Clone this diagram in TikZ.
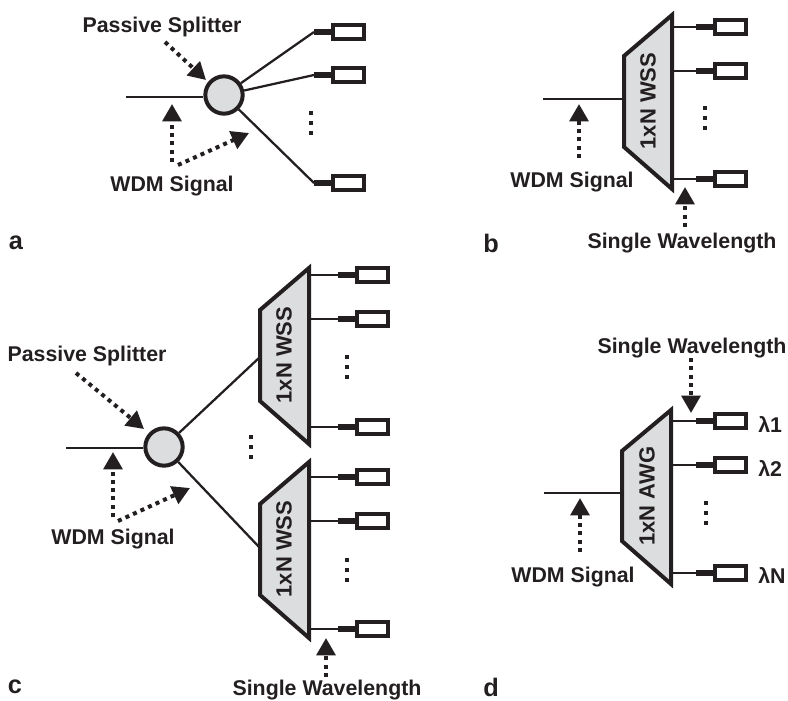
\documentclass[tikz,border=0pt]{standalone}
\usepackage{fontspec}
\setmainfont{Liberation Sans}
\usetikzlibrary{arrows.meta}
\definecolor{ink}{HTML}{231F20}
\definecolor{boxgray}{HTML}{DCDDDE}
\tikzset{
  fibre/.style={ink,line width=1.7pt},
  stub/.style={ink,line width=5.2pt},
  rxbox/.style={draw=ink,fill=white,line width=2.8pt,minimum width=23.4pt,minimum height=10.7pt,inner sep=0pt},
  splitter/.style={circle,draw=ink,fill=boxgray,line width=3pt,minimum size=28pt,inner sep=0pt},
  muxedge/.style={draw=ink,fill=boxgray,line width=3pt,line join=miter},
  muxlabel/.style={rotate=90,text=ink,inner sep=0pt,font=\fontsize{16.5}{18}\selectfont\bfseries},
  lbl/.style={text=ink,inner sep=0pt,yshift=-1.9pt,font=\fontsize{16}{18}\selectfont\bfseries},
  panel/.style={text=ink,inner sep=0pt,yshift=-1.5pt,font=\fontsize{19}{21}\selectfont\bfseries},
  pointer/.style={ink,line width=3pt,dash pattern=on 3pt off 3.2pt,-{Triangle[length=13pt,width=14pt]}},
  morerows/.style={ink,line width=3pt,dash pattern=on 3.2pt off 4.3pt}
}
\newcommand{\rxport}[4]{%
  \coordinate (#1s) at (#2,#3);
  \node[rxbox] (#1r) at (#2+34.5,#3) {};
  \draw[fibre] (#4) -- (#1s);
  \draw[stub] (#1s) -- (#1r.west);
}

\begin{document}
\begin{tikzpicture}[x=0.75pt,y=-0.75pt]
  \useasboundingbox (0,0) rectangle (788,700);

  % panel a
  \node[splitter] (splita) at (224,95) {};
  \coordinate (ain) at (126,97);
  \draw[fibre] (ain) -- (ain -| splita.west);
  \rxport{a1}{314}{32}{splita}
  \rxport{a2}{314}{75}{splita}
  \rxport{a3}{314}{183}{splita}
  \coordinate (adots) at (311,111);
  \draw[morerows] (adots) -- ++(0,24);
  \node[lbl] (apassive) at (162,24) {Passive Splitter};
  \node[lbl] (awdm) at (172,183) {WDM Signal};
  \node[panel] (alabel) at (16,241) {a};
  \coordinate (ap1) at (165,42);
  \coordinate (ap2) at (206,80);
  \coordinate (aw1) at (172,162);
  \coordinate (aw2) at (172,104);
  \coordinate (aw3) at (178,165);
  \coordinate (aw4) at (249,133);
  \draw[pointer] (ap1) -- (ap2);
  \draw[pointer] (aw1) -- (aw2);
  \draw[pointer] (aw3) -- (aw4);

  % panel b
  \coordinate (bne) at (672,15);
  \coordinate (bnw) at (624,56);
  \coordinate (bsw) at (624,147);
  \coordinate (bse) at (672,189);
  \draw[muxedge] (bne) -- (bnw) -- (bsw) -- (bse) -- cycle;
  \node[muxlabel] (bmux) at (648,101) {1xN WSS};
  \coordinate (bin) at (543,99);
  \draw[fibre] (bin) -- (bin -| bnw);
  \rxport{b1}{696}{27}{b1s -| bne}
  \rxport{b2}{696}{71}{b2s -| bne}
  \rxport{b3}{696}{179}{b3s -| bne}
  \coordinate (bdots) at (705,106);
  \draw[morerows] (bdots) -- ++(0,24);
  \node[lbl] (bwdm) at (572,179) {WDM Signal};
  \node[lbl] (bsingle) at (682,240) {Single Wavelength};
  \node[panel] (blabel) at (491,241) {b};
  \coordinate (bw1) at (579,158);
  \coordinate (bw2) at (579,104);
  \coordinate (bs1) at (685,227);
  \coordinate (bs2) at (685,187);
  \draw[pointer] (bw1) -- (bw2);
  \draw[pointer] (bs1) -- (bs2);

  % panel c
  \node[splitter] (splitc) at (164,447) {};
  \coordinate (cin) at (66,448);
  \coordinate (cup) at (260,357);
  \coordinate (clow) at (260,548);
  \draw[fibre] (cin) -- (cin -| splitc.west);
  \draw[fibre] (splitc) -- (cup);
  \draw[fibre] (splitc) -- (clow);
  \coordinate (cne) at (309,268);
  \coordinate (cnw) at (260,310);
  \coordinate (csw) at (260,401);
  \coordinate (cse) at (309,444);
  \draw[muxedge] (cne) -- (cnw) -- (csw) -- (cse) -- cycle;
  \node[muxlabel] (cmux) at (284,355) {1xN WSS};
  \coordinate (dne) at (309,462);
  \coordinate (dnw) at (260,504);
  \coordinate (dsw) at (260,595);
  \coordinate (dse) at (309,638);
  \draw[muxedge] (dne) -- (dnw) -- (dsw) -- (dse) -- cycle;
  \node[muxlabel] (dmux) at (284,549) {1xN WSS};
  \rxport{c1}{338}{275}{c1s -| cne}
  \rxport{c2}{338}{319}{c2s -| cne}
  \rxport{c3}{338}{427}{c3s -| cne}
  \rxport{c4}{338}{477}{c4s -| dne}
  \rxport{c5}{338}{521}{c5s -| dne}
  \rxport{c6}{338}{629}{c6s -| dne}
  \coordinate (cdots) at (347,355);
  \coordinate (cmid) at (251,435);
  \coordinate (cdotz) at (347,558);
  \draw[morerows] (cdots) -- ++(0,24);
  \draw[morerows] (cmid) -- ++(0,24);
  \draw[morerows] (cdotz) -- ++(0,24);
  \node[lbl] (cpassive) at (87,353) {Passive Splitter};
  \node[lbl] (cwdm) at (113,536) {WDM Signal};
  \node[lbl] (csingle) at (327,687) {Single Wavelength};
  \node[panel] (clabel) at (15,685) {c};
  \coordinate (cp1) at (76,373);
  \coordinate (cp2) at (144,429);
  \coordinate (cw1) at (113,517);
  \coordinate (cw2) at (113,452);
  \coordinate (cw3) at (118,521);
  \coordinate (cw4) at (190,488);
  \coordinate (cs1) at (326,677);
  \coordinate (cs2) at (326,638);
  \draw[pointer] (cp1) -- (cp2);
  \draw[pointer] (cw1) -- (cw2);
  \draw[pointer] (cw3) -- (cw4);
  \draw[pointer] (cs1) -- (cs2);

  % panel d
  \coordinate (ene) at (671,410);
  \coordinate (enw) at (622,451);
  \coordinate (esw) at (622,541);
  \coordinate (ese) at (671,584);
  \draw[muxedge] (ene) -- (enw) -- (esw) -- (ese) -- cycle;
  \node[muxlabel] (emux) at (647,496) {1xN AWG};
  \coordinate (ein) at (544,493);
  \draw[fibre] (ein) -- (ein -| enw);
  \rxport{e1}{696}{421}{e1s -| ene}
  \rxport{e2}{696}{465}{e2s -| ene}
  \rxport{e3}{696}{573}{e3s -| ene}
  \coordinate (edots) at (706,501);
  \draw[morerows] (edots) -- ++(0,24);
  \node[lbl,anchor=west] (elam1) at (758,422) {λ1};
  \node[lbl,anchor=west] (elam2) at (758,466) {λ2};
  \node[lbl,anchor=west] (elamn) at (758,573) {λN};
  \node[lbl] (ewdm) at (573,574) {WDM Signal};
  \node[lbl] (esingle) at (692,345) {Single Wavelength};
  \node[panel] (elabel) at (491,685) {d};
  \coordinate (ew1) at (580,552);
  \coordinate (ew2) at (580,498);
  \coordinate (es1) at (691,358);
  \coordinate (es2) at (691,413);
  \draw[pointer] (ew1) -- (ew2);
  \draw[pointer] (es1) -- (es2);
\end{tikzpicture}
\end{document}
